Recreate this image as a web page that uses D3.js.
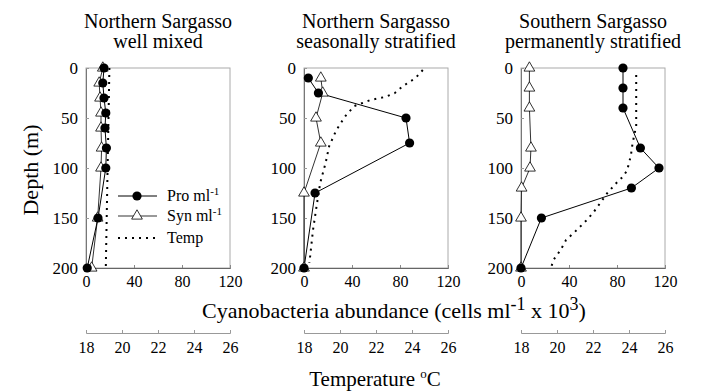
<!DOCTYPE html>
<html><head><meta charset="utf-8">
<script src="https://cdn.jsdelivr.net/npm/d3@7"></script>
<style>body{margin:0;background:#fff}svg{display:block}text{font-family:"Liberation Serif","Times New Roman",serif !important;fill:#000}</style>
</head><body><svg id="c" width="702" height="392"></svg>
<script>
const titles = [["Northern Sargasso","well mixed"],["Northern Sargasso","seasonally stratified"],["Southern Sargasso","permanently stratified"]];
const depthTicks = [0,50,100,150,200];
const abundTicks = [0,40,80,120];
const tempTicks = [18,20,22,24,26];

// Panel 1: well mixed
const p1ProDepth = [0,15,30,45,60,80,100,150,200];
const p1Pro      = [15,14,15,16.5,15.8,17,16.5,10,1];
const p1SynDepth = [0,15,30,45,60,80,100,150,200];
const p1Syn      = [14,11,11.7,12.5,12.5,13,12.5,9.7,4.7];
const p1TempDepth = [0,50,100,150,200];
const p1Temp      = [19.3,19.25,19.2,19.15,19.1];

// Panel 2: seasonally stratified
const p2ProDepth = [10,25,50,75,125,200];
const p2Pro      = [3.6,12,85,88,9.2,0];
const p2SynDepth = [10,25,50,75,125,200];
const p2Syn      = [14,15.6,10,14,0,0];
const p2TempDepth = [2,10,18,25,29,32,38,48,62,78,95,115,138,162,195];
const p2Temp      = [24.6,24.2,23.5,23.05,22.5,21.7,20.8,20.3,19.8,19.4,19.2,18.9,18.7,18.5,18.3];

// Panel 3: permanently stratified
const p3ProDepth = [0,20,40,80,100,120,150,200];
const p3Pro      = [85,85,85,99.5,115,92,17,0];
const p3SynDepth = [0,20,40,80,100,120,150,200];
const p3Syn      = [7,7,7,8.3,7.5,0.5,0,0];
const p3TempDepth = [7,32,58,75,88,102,108,115,125,135,145,153,162,172,182,192,198];
const p3Temp      = [24.4,24.4,24.4,24.2,24.1,23.9,23.7,23.3,22.8,22.4,22.0,21.6,21.1,20.5,20.2,19.8,19.7];

const panels = [
  {x0:86, pro:[p1ProDepth,p1Pro], syn:[p1SynDepth,p1Syn], temp:[p1TempDepth,p1Temp]},
  {x0:304, pro:[p2ProDepth,p2Pro], syn:[p2SynDepth,p2Syn], temp:[p2TempDepth,p2Temp]},
  {x0:521, pro:[p3ProDepth,p3Pro], syn:[p3SynDepth,p3Syn], temp:[p3TempDepth,p3Temp]}
];

const SERIF = '"Liberation Serif","Times New Roman",serif';
const svg = d3.select("#c");
const W = 144, yTop = 68, yBot = 268;
const y = d3.scaleLinear().domain([0,200]).range([yTop,yBot]);
const tri = d3.symbol().type(d3.symbolTriangle).size(50);

function styleTicks(sel, size){
  sel.attr("font-family",null);
  sel.selectAll("text").style("font-family",SERIF).style("font-size",size+"px").attr("fill","#000");
}

panels.forEach((p,i)=>{
  const x = d3.scaleLinear().domain([0,120]).range([p.x0,p.x0+W]);
  const xt = d3.scaleLinear().domain([18,26]).range([p.x0,p.x0+W]);
  const g = svg.append("g");
  const cx = p.x0 + W/2;
  g.append("text").attr("x",cx).attr("y",28).attr("text-anchor","middle").style("font-size","20px").text(titles[i][0]);
  g.append("text").attr("x",cx).attr("y",48).attr("text-anchor","middle").style("font-size","20px").text(titles[i][1]);
  g.append("rect").attr("x",p.x0).attr("y",yTop).attr("width",W).attr("height",yBot-yTop)
    .attr("fill","none").attr("stroke","#aaa").attr("stroke-width",1);
  const ya = g.append("g").attr("transform",`translate(${p.x0},0)`)
    .call(d3.axisLeft(y).tickValues(depthTicks).tickSize(-3).tickPadding(8).tickFormat(d3.format("d")));
  ya.select(".domain").attr("stroke","#777");
  ya.selectAll(".tick line").attr("stroke","#999");
  styleTicks(ya,17);
  const xa = g.append("g").attr("transform",`translate(0,${yBot})`)
    .call(d3.axisBottom(x).tickValues(abundTicks).tickSize(-3).tickPadding(8).tickFormat(d3.format("d")));
  xa.select(".domain").attr("stroke","#666");
  xa.selectAll(".tick line").attr("stroke","#888");
  styleTicks(xa,16);
  const ta = g.append("g").attr("transform",`translate(0,333)`)
    .call(d3.axisBottom(xt).tickValues(tempTicks).tickSize(-3).tickPadding(9).tickFormat(d3.format("d")));
  ta.select(".domain").attr("stroke","#999");
  ta.selectAll(".tick line").attr("stroke","#999");
  styleTicks(ta,16);

  const tempPts = p.temp[0].map((d,k)=>[xt(p.temp[1][k]), y(d)]);
  g.append("path").attr("d",d3.line()(tempPts)).attr("fill","none").attr("stroke","#000")
    .attr("stroke-width",2).attr("stroke-dasharray","2,5");
  const synPts = p.syn[0].map((d,k)=>[x(p.syn[1][k]), y(d)]);
  g.append("path").attr("d",d3.line()(synPts)).attr("fill","none").attr("stroke","#333").attr("stroke-width",1);
  const proPts = p.pro[0].map((d,k)=>[x(p.pro[1][k]), y(d)]);
  g.append("path").attr("d",d3.line()(proPts)).attr("fill","none").attr("stroke","#000").attr("stroke-width",1);
  g.selectAll(".tri").data(synPts).enter().append("path")
    .attr("d",tri).attr("transform",d=>`translate(${d[0]},${d[1]})`)
    .attr("fill","#fff").attr("stroke","#000").attr("stroke-width",0.8);
  g.selectAll(".pc").data(proPts).enter().append("circle")
    .attr("cx",d=>d[0]).attr("cy",d=>d[1]).attr("r",4.6).attr("fill","#000");
});

svg.append("text").attr("transform","translate(38,170) rotate(-90)").attr("text-anchor","middle")
  .style("font-size","22px").text("Depth (m)");
const ct = svg.append("text").attr("x",394).attr("y",318).attr("text-anchor","middle").style("font-size","22px");
ct.append("tspan").text("Cyanobacteria abundance (cells ml");
ct.append("tspan").attr("dy",-8).style("font-size","18px").text("-1");
ct.append("tspan").attr("dy",8).text(" x 10");
ct.append("tspan").attr("dy",-8).style("font-size","18px").text("3");
ct.append("tspan").attr("dy",8).text(")");
const tt = svg.append("text").attr("x",375).attr("y",386).attr("text-anchor","middle").style("font-size","21px");
tt.append("tspan").text("Temperature ");
tt.append("tspan").attr("dy",-8).style("font-size","13px").text("o");
tt.append("tspan").attr("dy",8).text("C");

const lg = svg.append("g");
const legItems = [["Pro ml","pro",196],["Syn ml","syn",216],["Temp","temp",238]];
legItems.forEach(([lab,type,ly])=>{
  if(type==="temp"){
    lg.append("line").attr("x1",118).attr("x2",157).attr("y1",ly).attr("y2",ly)
      .attr("stroke","#000").attr("stroke-width",2).attr("stroke-dasharray","2,5");
  } else {
    lg.append("line").attr("x1",118).attr("x2",157).attr("y1",ly).attr("y2",ly)
      .attr("stroke",type==="syn"?"#777":"#000").attr("stroke-width",type==="syn"?1.5:1);
    if(type==="pro") lg.append("circle").attr("cx",137).attr("cy",ly).attr("r",4.6).attr("fill","#000");
    else lg.append("path").attr("d",tri).attr("transform",`translate(137,${ly})`).attr("fill","#fff").attr("stroke","#000").attr("stroke-width",0.8);
  }
  const t = lg.append("text").attr("x",167).attr("y",ly+5).style("font-size","16px");
  t.append("tspan").text(lab);
  if(type!=="temp") t.append("tspan").attr("dy",-6).style("font-size","11px").text("-1");
});
</script></body></html>
